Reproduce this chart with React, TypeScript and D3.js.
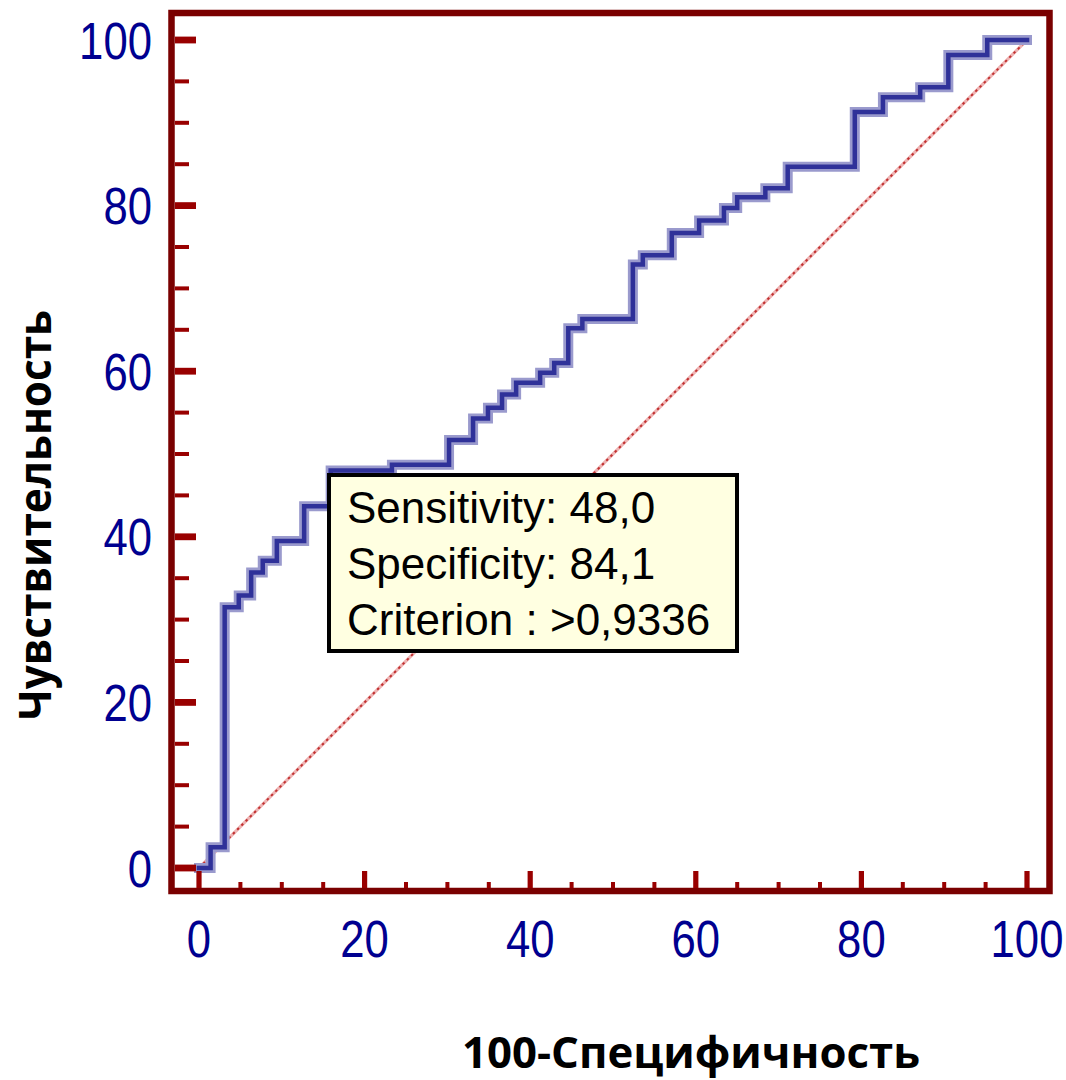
import React from "react";
import * as d3 from "d3";

// ROC step vertices: x = 100-Specificity at which the curve rises, y = Sensitivity after the rise
const fprSteps = [0, 1.4, 3.1, 4.8, 6.3, 7.7, 9.4, 12.7, 15.9, 23.3, 30.2, 33.1, 34.9, 36.6, 38.3, 41.2, 42.9, 44.6, 46.3, 52.4, 53.6, 57.1, 60.4, 63.4, 65.0, 68.4, 71.1, 79.2, 82.6, 87.1, 90.5, 95.2, 100];
const tprSteps = [0, 2.5, 31.5, 32.9, 35.7, 37.1, 39.5, 43.7, 48.0, 48.7, 51.7, 54.3, 55.6, 57.2, 58.6, 59.8, 61.0, 65.2, 66.3, 72.9, 74.0, 76.7, 78.2, 79.7, 81.0, 82.1, 84.7, 91.3, 93.1, 94.3, 98.2, 100, 100];

const majorTicks = [0, 20, 40, 60, 80, 100];
const minorTicks = [5, 10, 15, 25, 30, 35, 45, 50, 55, 65, 70, 75, 85, 90, 95];

const tooltipLines = ["Sensitivity: 48,0", "Specificity: 84,1", "Criterion : >0,9336"];
const xTitle = "100-Специфичность";
const yTitle = "Чувствительность";

const W = 1066;
const H = 1080;

export default function App() {
  const x = d3.scaleLinear().domain([0, 100]).range([199, 1027]);
  const y = d3.scaleLinear().domain([0, 100]).range([868, 40]);

  const pts: [number, number][] = fprSteps.map((f, i) => [f, tprSteps[i]]);
  const line = d3
    .line<[number, number]>()
    .x((d) => x(d[0]))
    .y((d) => y(d[1]))
    .curve(d3.curveStepAfter);
  const rocPath = line(pts) || "";

  const frameColor = "#7a0000";
  const tickColor = "#990000";
  const labelColor = "#000090";
  const frameLeft = 175;
  const frameBottom = 888;
  const labelFont = "'Liberation Sans', Arial, sans-serif";

  return (
    <svg
      width={W}
      height={H}
      style={{ position: "absolute", left: 0, top: 0, background: "#fff" }}
      xmlns="http://www.w3.org/2000/svg"
    >
      <rect x={0} y={0} width={W} height={H} fill="#ffffff" />

      {/* diagonal reference line */}
      <line x1={x(0)} y1={y(0)} x2={x(100)} y2={y(100)} stroke="#eeb4b4" strokeWidth={3.2} />
      <line
        x1={x(0)}
        y1={y(0)}
        x2={x(100)}
        y2={y(100)}
        stroke="#c03030"
        strokeWidth={2}
        strokeDasharray="2.5 3.5"
      />

      {/* ROC curve */}
      <path d={rocPath} fill="none" stroke="#9a9acd" strokeWidth={10} strokeLinejoin="miter" strokeLinecap="square" />
      <path d={rocPath} fill="none" stroke="#2f3199" strokeWidth={4.5} strokeLinejoin="miter" strokeLinecap="square" />

      {/* frame */}
      <rect x={171.5} y={13} width={878} height={878} fill="none" stroke={frameColor} strokeWidth={6.5} />

      {/* y ticks */}
      {majorTicks.map((t) => (
        <rect key={"ym" + t} x={frameLeft} y={y(t) - 3.4} width={21} height={6.8} fill={tickColor} />
      ))}
      {minorTicks.map((t) => (
        <rect key={"yn" + t} x={frameLeft} y={y(t) - 2} width={14} height={4} fill={tickColor} />
      ))}
      {/* x ticks */}
      {majorTicks.map((t) => (
        <rect key={"xm" + t} x={x(t) - 2.6} y={frameBottom - 17} width={5.2} height={17} fill={tickColor} />
      ))}
      {minorTicks.map((t) => (
        <rect key={"xn" + t} x={x(t) - 2} y={frameBottom - 6} width={4} height={6} fill={tickColor} />
      ))}

      {/* y tick labels */}
      {majorTicks.map((t) => (
        <g key={"yl" + t} transform={`translate(152,${y(t) + 18.5}) scale(0.84,1)`}>
          <text x={0} y={0} textAnchor="end" fill={labelColor} fontFamily={labelFont} fontSize={52}>
            {t}
          </text>
        </g>
      ))}
      {/* x tick labels */}
      {majorTicks.map((t) => (
        <g key={"xl" + t} transform={`translate(${x(t)},957) scale(0.84,1)`}>
          <text x={0} y={0} textAnchor="middle" fill={labelColor} fontFamily={labelFont} fontSize={52}>
            {t}
          </text>
        </g>
      ))}

      {/* tooltip */}
      <rect x={329} y={475} width={408} height={176} fill="#ffffe1" stroke="#000" strokeWidth={4} />
      {tooltipLines.map((s, i) => (
        <text key={"tt" + i} x={347} y={523 + i * 56} fill="#000" fontFamily={labelFont} fontSize={44}>
          {s}
        </text>
      ))}

      {/* axis titles */}
      <text
        x={691}
        y={1068}
        textAnchor="middle"
        fill="#000"
        fontFamily="'Open Sans', 'Noto Sans', 'DejaVu Sans', sans-serif"
        fontWeight="bold"
        fontSize={43}
        textLength={458}
        lengthAdjust="spacingAndGlyphs"
      >
        {xTitle}
      </text>
      <text
        transform="translate(51,515) rotate(-90)"
        x={0}
        y={0}
        textAnchor="middle"
        fill="#000"
        fontFamily="'Open Sans', 'Noto Sans', 'DejaVu Sans', sans-serif"
        fontWeight="bold"
        fontSize={44}
        textLength={410}
        lengthAdjust="spacingAndGlyphs"
      >
        {yTitle}
      </text>
    </svg>
  );
}
